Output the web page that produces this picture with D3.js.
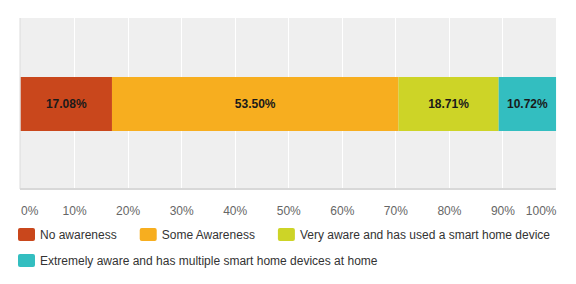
<!DOCTYPE html>
<html>
<head>
<meta charset="utf-8">
<script src="https://cdn.jsdelivr.net/npm/d3@7"></script>
<style>
  body { margin: 0; background: #fff; }
  svg { display: block; font-family: Arial, "Liberation Sans", sans-serif; }
</style>
</head>
<body>
<svg id="chart" width="576" height="284"></svg>
<script>
const categories = [
    "No awareness",
    "Some Awareness",
    "Very aware and has used a smart home device",
    "Extremely aware and has multiple smart home devices at home"
];
const values = [17.08, 53.50, 18.71, 10.72];
const colors = ["#c9471c", "#f7ae1f", "#cdd427", "#33bec0"];
const tickValues = [0, 10, 20, 30, 40, 50, 60, 70, 80, 90, 100];

const svg = d3.select("#chart");
const margin = {top: 18, right: 20, bottom: 95, left: 20};
const width = 576 - margin.left - margin.right;
const height = 284 - margin.top - margin.bottom;
const g = svg.append("g").attr("transform", `translate(${margin.left},${margin.top})`);

const x = d3.scaleLinear().domain([0, 100]).range([0.5, width]);
const y = d3.scaleBand().domain(["row"]).range([0, height]).paddingInner(0).paddingOuter(0.84);

// background + grid
g.append("rect").attr("x", 0).attr("y", 0).attr("width", width).attr("height", height).attr("fill", "#efefef");
g.selectAll("line.grid").data(tickValues.slice(1, -1)).enter().append("line")
    .attr("class", "grid")
    .attr("x1", d => Math.round(x(d)) + 0.5).attr("x2", d => Math.round(x(d)) + 0.5)
    .attr("y1", 0).attr("y2", height)
    .attr("stroke", "#fff").attr("stroke-width", 1);

// stacked segments
let acc = 0;
const segs = values.map((v, i) => { const s = {start: acc, value: v, color: colors[i]}; acc += v; return s; });

const bw = 54;
const by = height / 2 - bw / 2 + 0.5;
g.selectAll("rect.seg").data(segs).enter().append("rect")
    .attr("class", "seg")
    .attr("x", d => x(d.start))
    .attr("width", d => x(d.start + d.value) - x(d.start))
    .attr("y", by).attr("height", bw)
    .attr("fill", d => d.color);

g.selectAll("text.lbl").data(segs).enter().append("text")
    .attr("class", "lbl")
    .attr("x", d => (x(d.start) + x(d.start + d.value)) / 2)
    .attr("y", by + bw / 2)
    .attr("dy", "0.35em")
    .attr("text-anchor", "middle")
    .attr("font-size", 12).attr("font-weight", "bold").attr("fill", "#1a1a1a")
    .text(d => d.value.toFixed(2) + "%");

// axis lines
g.append("line").attr("x1", 0).attr("x2", 0).attr("y1", 0).attr("y2", height)
    .attr("stroke", "#dcdcdc").attr("stroke-width", 1);
g.append("line").attr("x1", 0).attr("x2", width).attr("y1", height).attr("y2", height)
    .attr("stroke", "#d8d8d8").attr("stroke-width", 2);

// x axis
const xAxis = g.append("g").attr("transform", `translate(0,${height})`)
    .call(d3.axisBottom(x).tickValues(tickValues).tickSize(0).tickPadding(17).tickFormat(d => d + "%"));
xAxis.select(".domain").remove();
xAxis.selectAll("text")
    .attr("font-size", 12).attr("fill", "#666").attr("font-family", "Arial, 'Liberation Sans', sans-serif")
    .attr("text-anchor", (d, i) => i === 0 ? "start" : (i === tickValues.length - 1 ? "end" : "middle"));

// legend
const legend = svg.append("g").attr("transform", "translate(18,228)");
let lx = 0, ly = 0;
const maxW = 540;
categories.forEach((c, i) => {
    const item = legend.append("g");
    item.append("rect").attr("width", 17).attr("height", 13).attr("rx", 2).attr("fill", colors[i]);
    const t = item.append("text").attr("x", 22).attr("y", 6.5).attr("dy", "0.35em")
        .attr("font-size", 12).attr("fill", "#333").text(c);
    const w = 22 + t.node().getComputedTextLength();
    if (lx > 0 && lx + w > maxW) { lx = 0; ly += 26; }
    item.attr("transform", `translate(${lx},${ly})`);
    lx += w + 23;
});
</script>
</body>
</html>
